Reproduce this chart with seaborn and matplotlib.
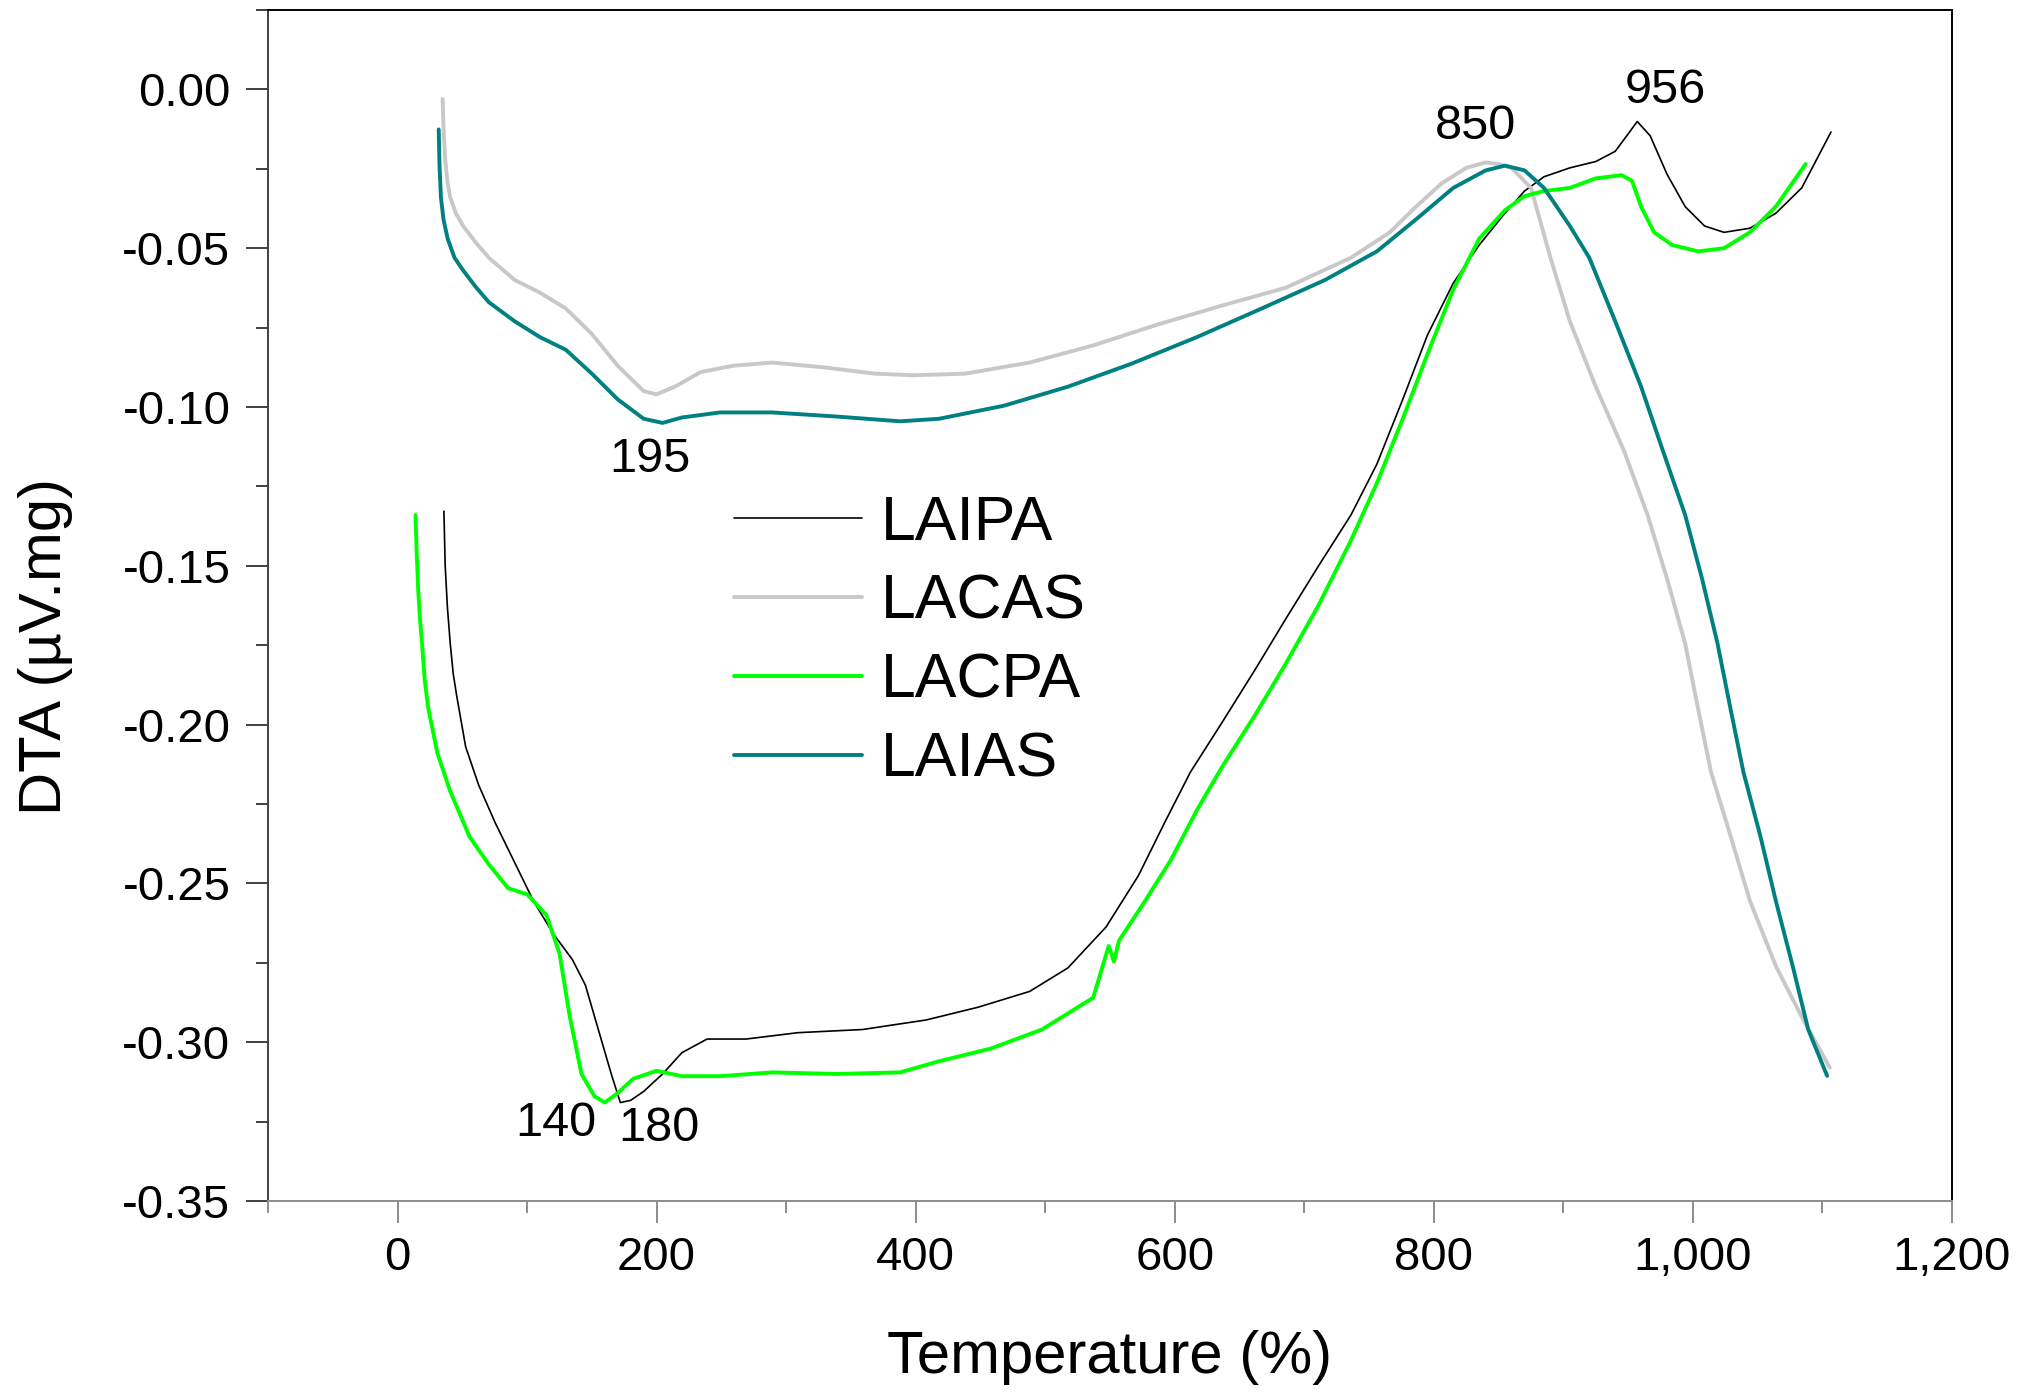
import numpy as np
import pandas as pd
import seaborn as sns
import matplotlib
matplotlib.use("Agg")
import matplotlib.pyplot as plt
from matplotlib.ticker import MultipleLocator, FuncFormatter
from matplotlib.lines import Line2D

# ---------------- data ----------------
series_names = ["LAIPA", "LACAS", "LACPA", "LAIAS"]

laipa_x = [35.8, 36.8, 38.5, 40.7, 43.0, 45.7, 52.6, 62.6, 75.5, 90.4, 105, 120, 135, 145, 155,
           165, 172, 180, 190, 204.6, 219.5, 239, 269, 309, 359, 408, 448, 488, 517.5, 547,
           572, 592, 612, 637, 662, 686, 711, 736, 756, 776, 795, 815, 835, 855, 870, 885,
           905, 925, 940, 950, 957, 967, 980, 994, 1009, 1024, 1044, 1064, 1084, 1106.6]
laipa_y = [-0.1328, -0.150, -0.163, -0.1745, -0.184, -0.191, -0.207, -0.219, -0.231, -0.2434,
           -0.2556, -0.2657, -0.274, -0.282, -0.296, -0.310, -0.319, -0.3183, -0.3155, -0.310,
           -0.3033, -0.299, -0.299, -0.297, -0.296, -0.293, -0.289, -0.284, -0.2766, -0.2637,
           -0.2475, -0.231, -0.215, -0.199, -0.1827, -0.1665, -0.150, -0.134, -0.118, -0.0976,
           -0.0774, -0.061, -0.049, -0.0389, -0.032, -0.0275, -0.0247, -0.0227, -0.0195,
           -0.0140, -0.0101, -0.0146, -0.0267, -0.0369, -0.043, -0.045, -0.0437, -0.039,
           -0.031, -0.0134]

lacas_x = [34.8, 35.6, 36.8, 38.5, 40.7, 45.0, 50.7, 60.0, 70.5, 90.4, 110, 130, 150, 170,
           190, 200, 214.6, 234, 259, 289, 329, 368.5, 398, 438, 488, 537, 587, 637, 686, 736,
           766, 786, 806, 825, 840, 850, 860, 875, 890, 905, 925, 947, 965, 980, 994, 1004,
           1014, 1029, 1044, 1064, 1084, 1105.6]
lacas_y = [-0.003, -0.013, -0.022, -0.029, -0.034, -0.039, -0.043, -0.048, -0.053, -0.060,
           -0.064, -0.069, -0.077, -0.087, -0.095, -0.096, -0.0935, -0.089, -0.087, -0.086,
           -0.0875, -0.0895, -0.090, -0.0895, -0.086, -0.0806, -0.074, -0.068, -0.0624,
           -0.053, -0.045, -0.037, -0.0296, -0.0247, -0.023, -0.0235, -0.0247, -0.031, -0.053,
           -0.073, -0.0936, -0.114, -0.134, -0.154, -0.1745, -0.195, -0.215, -0.235, -0.2555,
           -0.276, -0.292, -0.308]

lacpa_x = [13.9, 14.8, 15.9, 17.2, 18.9, 21.0, 23.8, 30.8, 40.7, 55.6, 70.5, 85.4, 100.3, 115,
           125, 133, 142, 152, 160, 170, 182, 200, 219.5, 249, 289, 339, 388, 418, 458, 497.5,
           537, 549, 553, 557, 577, 597, 617, 637, 662, 686, 711, 736, 756, 776, 795, 815,
           835, 855, 870, 885, 905, 925, 945, 953, 960, 970, 984, 1004, 1024, 1044, 1064, 1087]
lacpa_y = [-0.134, -0.146, -0.157, -0.166, -0.1745, -0.186, -0.195, -0.209, -0.221, -0.2353,
           -0.244, -0.2515, -0.2535, -0.260, -0.272, -0.292, -0.310, -0.317, -0.319, -0.316,
           -0.3115, -0.309, -0.3107, -0.3107, -0.3095, -0.310, -0.3095, -0.306, -0.302,
           -0.296, -0.286, -0.2697, -0.2746, -0.268, -0.2556, -0.2426, -0.227, -0.213, -0.197,
           -0.1806, -0.1624, -0.142, -0.124, -0.1037, -0.0834, -0.063, -0.047, -0.038,
           -0.0336, -0.032, -0.031, -0.028, -0.027, -0.0288, -0.0369, -0.045, -0.049, -0.051,
           -0.050, -0.045, -0.0369, -0.0235]

laias_x = [31.8, 32.4, 33.5, 35.5, 38.7, 44.0, 50.7, 60.0, 70.5, 90.4, 110, 130, 150, 170, 190,
           204.6, 219.5, 249, 289, 339, 388, 418, 468, 517.5, 567, 617, 667, 716, 756, 786,
           815, 840, 855, 870, 885, 905, 920, 940, 960, 977, 994, 1007, 1019, 1029, 1039,
           1052, 1064, 1077, 1089, 1103.6]
laias_y = [-0.0126, -0.024, -0.034, -0.041, -0.047, -0.053, -0.057, -0.062, -0.067, -0.073,
           -0.078, -0.082, -0.0895, -0.0976, -0.1037, -0.105, -0.1033, -0.1017, -0.1017,
           -0.103, -0.1045, -0.1037, -0.0996, -0.0936, -0.0863, -0.078, -0.069, -0.060,
           -0.051, -0.041, -0.031, -0.0255, -0.024, -0.0255, -0.031, -0.043, -0.053, -0.073,
           -0.0936, -0.114, -0.134, -0.154, -0.1745, -0.195, -0.215, -0.235, -0.2555,
           -0.276, -0.296, -0.3106]

annot_text = ["195", "140", "180", "850", "956"]
annot_x = [194.7, 122, 201.6, 832, 979]
annot_y = [-0.1166, -0.3256, -0.3272, -0.0117, -0.0004]

# ---------------- styling ----------------
sns.set_style("ticks")
plt.rcParams["font.family"] = ["Liberation Sans", "DejaVu Sans"]
plt.rcParams["axes.unicode_minus"] = False
plt.rcParams["text.color"] = "black"
plt.rcParams["axes.labelcolor"] = "black"
plt.rcParams["xtick.labelcolor"] = "black"
plt.rcParams["ytick.labelcolor"] = "black"

colors = {"LAIPA": "#000000", "LACAS": "#c8c8c8", "LACPA": "#00ff00", "LAIAS": "#008080"}
widths = {"LAIPA": 1.2, "LACAS": 2.8, "LACPA": 2.8, "LAIAS": 2.8}

fig = plt.figure(figsize=(20.18, 13.92), dpi=100)
ax = fig.add_axes([0.1328, 0.1372, 0.8345, 0.8556])

data = {
    "LAIPA": (laipa_x, laipa_y),
    "LACAS": (lacas_x, lacas_y),
    "LACPA": (lacpa_x, lacpa_y),
    "LAIAS": (laias_x, laias_y),
}
for name in series_names:
    xs, ys = data[name]
    df = pd.DataFrame({"Temperature": xs, "DTA": ys})
    sns.lineplot(data=df, x="Temperature", y="DTA", ax=ax, sort=False, estimator=None,
                 color=colors[name], linewidth=widths[name], legend=False)

for t, x, y in zip(annot_text, annot_x, annot_y):
    ax.text(x, y, t, fontsize=35, ha="center", va="center", color="black")

ax.set_xlim(-100, 1200)
ax.set_ylim(-0.35, 0.025)

ax.xaxis.set_major_locator(MultipleLocator(200))
ax.xaxis.set_minor_locator(MultipleLocator(100))
ax.yaxis.set_major_locator(MultipleLocator(0.05))
ax.yaxis.set_minor_locator(MultipleLocator(0.025))
ax.xaxis.set_major_formatter(FuncFormatter(lambda v, p: f"{v:,.0f}"))
ax.yaxis.set_major_formatter(FuncFormatter(lambda v, p: "0.00" if abs(v) < 1e-9 else f"{v:.2f}"))

ax.tick_params(axis="both", which="major", direction="out", length=16, width=1.4, labelsize=34)
ax.tick_params(axis="both", which="minor", direction="out", length=8.5, width=1.4)
ax.tick_params(axis="y", which="both", colors="#404040", labelcolor="black", pad=11)
ax.tick_params(axis="x", which="both", colors="#8c8c8c", labelcolor="black", pad=9)

for side in ["top", "right"]:
    ax.spines[side].set_visible(True)
    ax.spines[side].set_color("black")
    ax.spines[side].set_linewidth(1.4)
ax.spines["left"].set_color("#404040")
ax.spines["left"].set_linewidth(1.4)
ax.spines["bottom"].set_color("#8c8c8c")
ax.spines["bottom"].set_linewidth(1.4)

ax.set_xlabel("Temperature (%)", fontsize=43, color="black")
ax.set_ylabel("DTA (µV.mg)", fontsize=43, color="black")
ax.xaxis.set_label_coords(0.5, -0.108)
ax.yaxis.set_label_coords(-0.1157, 0.466)

handles = [Line2D([0], [0], color=colors[n], linewidth=widths[n]) for n in series_names]
leg = ax.legend(handles, series_names, loc="center left", bbox_to_anchor=(0.348, 0.539),
                bbox_transform=fig.transFigure, frameon=False, fontsize=45,
                handlelength=2.06, handletextpad=0.3, labelspacing=0.32, borderpad=0,
                labelcolor="black")

fig.savefig("out.png", dpi=100)
